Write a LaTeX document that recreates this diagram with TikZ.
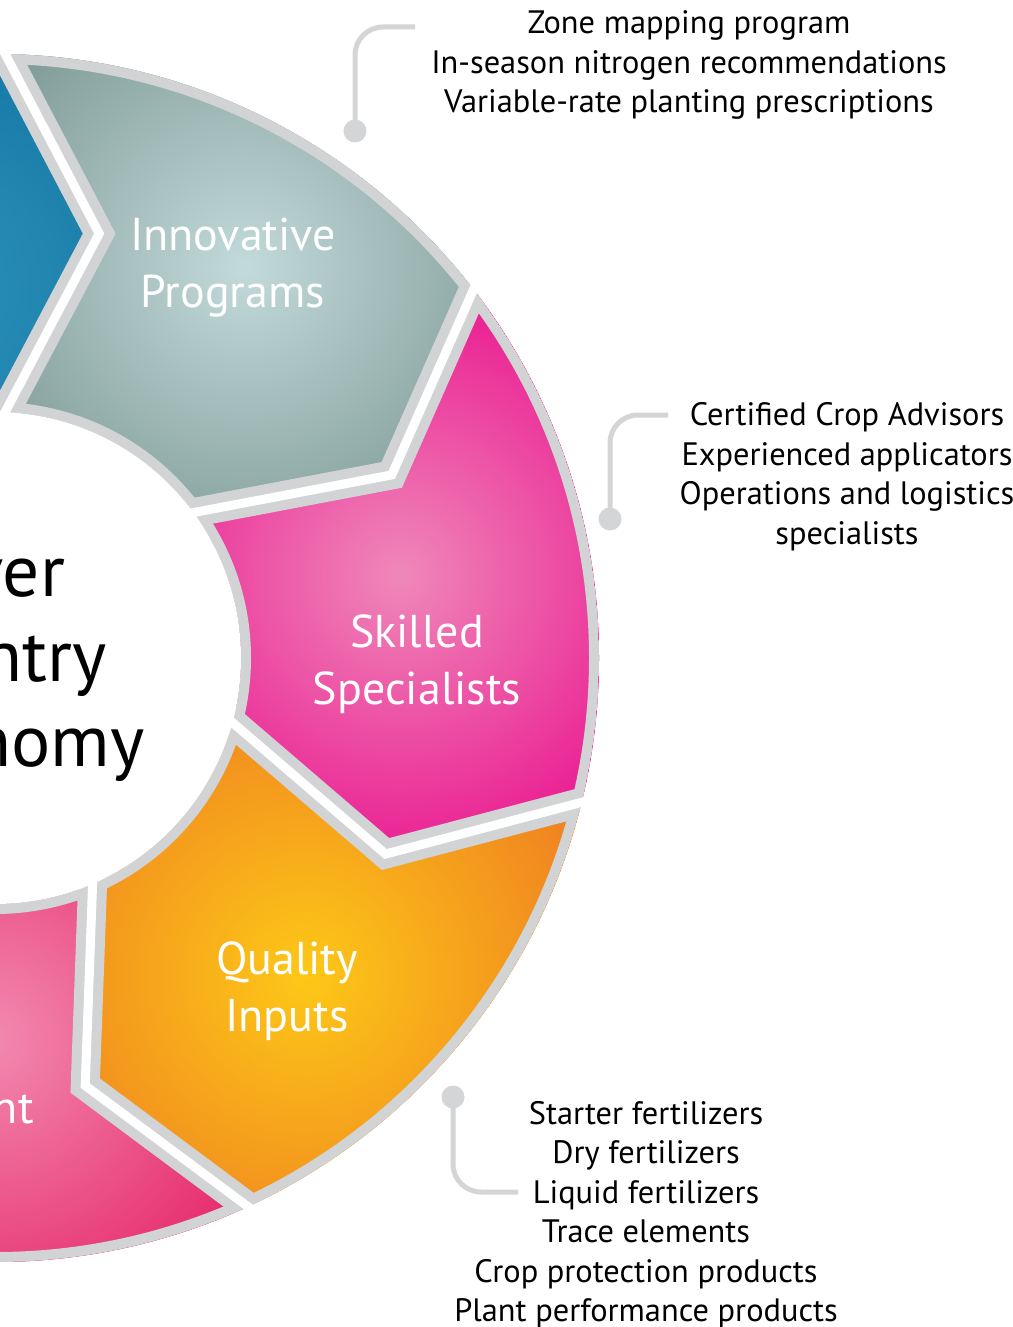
\documentclass[tikz,border=0pt]{standalone}
\usepackage{fontspec}
\setmainfont{PT Sans}
\usetikzlibrary{calc}
\definecolor{bordergray}{HTML}{D1D3D4}
\definecolor{conngray}{HTML}{D3D5D7}
\definecolor{blueIn}{HTML}{2E94BA}
\definecolor{blueOut}{HTML}{0E70A0}
\definecolor{grayIn}{HTML}{C2DADA}
\definecolor{grayOut}{HTML}{7B9692}
\definecolor{pinkIn}{HTML}{EF88B9}
\definecolor{pinkOut}{HTML}{EA128E}
\definecolor{orangeIn}{HTML}{FDC817}
\definecolor{orangeOut}{HTML}{EE7A22}
\definecolor{roseIn}{HTML}{F28AB0}
\definecolor{roseOut}{HTML}{E4145C}
\tikzset{
  seglabel/.style={text=white, align=center, inner sep=0pt, font=\fontsize{34.5}{42.75}\selectfont},
  centertext/.style={text=black, align=center, inner sep=0pt, font=\fontsize{55}{63.75}\selectfont},
  notetext/.style={text=black, align=center, inner sep=0pt, font=\fontsize{24.3}{29.6}\selectfont},
  calloutdot/.style={circle, fill=conngray, inner sep=0pt, minimum size=17.25pt},
  connline/.style={draw=conngray, line width=3.75pt, rounded corners=21pt},
  gapband/.style={draw=bordergray, line width=21.75pt, miter limit=10},
  gapline/.style={draw=white, line width=6.75pt, miter limit=10},
}
\newcommand\segfill[5]{%
  \begin{scope}
    \clip (EO#1) -- (T#1) -- (EI#1) -- (C) -- (EI#2) -- (T#2) -- (EO#2) -- (F#1) -- cycle;
    \fill[#4] (EO#1) -- (T#1) -- (EI#1) -- (C) -- (EI#2) -- (T#2) -- (EO#2) -- (F#1) -- cycle;
    \shade[inner color=#3, outer color=#4] #5;
  \end{scope}}
\begin{document}
\begin{tikzpicture}[x=0.75pt,y=0.75pt]
\useasboundingbox (0,0) rectangle (1013,-1327);
\clip (0,0) rectangle (1013,-1327);
\fill[white] (0,0) rectangle (1013,-1327);
\coordinate (C) at (-5,-658);
\foreach \j in {0,...,5} {
  \pgfmathsetmacro{\angT}{127.63-51.4286*\j}
  \pgfmathsetmacro{\angO}{\angT+12.3}
  \pgfmathsetmacro{\angI}{\angT+10.4}
  \pgfmathsetmacro{\angF}{\angT+12.3-25.71}
  \coordinate (T\j) at ($(C)+(\angT:437)$);
  \coordinate (O\j) at ($(C)+(\angO:594)$);
  \coordinate (I\j) at ($(C)+(\angI:256)$);
  \coordinate (EO\j) at ($(T\j)!1.25!(O\j)$);
  \coordinate (EI\j) at ($(T\j)!1.3!(I\j)$);
  \coordinate (F\j) at ($(C)+(\angF:1000)$);
}
% segment fills
\begin{scope}
  \clip (C) circle (604);
  \segfill{0}{1}{blueIn}{blueOut}{(-80,-290) circle (330)}
  \segfill{1}{2}{grayIn}{grayOut}{(245,-267) circle (330)}
  \segfill{2}{3}{pinkIn}{pinkOut}{(400,-575) circle (320)}
  \segfill{3}{4}{orangeIn}{orangeOut}{(305,-975) circle (340)}
  \segfill{4}{5}{roseIn}{roseOut}{(-10,-1040) circle (370)}
  % borders
  \draw[bordergray, line width=7.5pt] (C) circle (599);
  \foreach \j in {1,...,5} {
    \draw[gapband] (EO\j) -- (T\j) -- (EI\j);
  }
\end{scope}
\draw[bordergray, line width=7.5pt] (C) circle (251);
\foreach \j in {1,...,5} {
  \draw[gapline] (EO\j) -- (T\j) -- (EI\j);
}
\fill[white] (C) circle (246);
% centre text
\node[centertext] (hub) at (-15,-663) {River\\Country\\Agronomy};
% segment labels
\node[seglabel] (innov) at (233,-268) {Innovative\\Programs};
\node[seglabel] (skill) at (417,-664) {Skilled\\Specialists};
\node[seglabel] (qual) at (287,-991) {Quality\\Inputs};
\node[seglabel, anchor=base east] (fifth) at (34,-1123) {nt};
% callouts
\node[notetext] (n1) at (689,-65) {Zone mapping program\\In-season nitrogen recommendations\\Variable-rate planting prescriptions};
\node[notetext] (n2) at (847,-476.5) {Certified Crop Advisors\\Experienced applicators\\Operations and logistics\\specialists};
\node[notetext] (n3) at (646,-1214.5) {Starter fertilizers\\Dry fertilizers\\Liquid fertilizers\\Trace elements\\Crop protection products\\Plant performance products};
\node[calloutdot] (d1) at (355,-131) {};
\node[calloutdot] (d2) at (610,-519) {};
\node[calloutdot] (d3) at (453,-1097) {};
\coordinate (e1) at (415,-27);
\coordinate (e2) at (668,-415);
\coordinate (e3) at (518,-1192);
\draw[connline] (d1.center) |- (e1);
\draw[connline] (d2.center) |- (e2);
\draw[connline] (d3.center) |- (e3);
\end{tikzpicture}
\end{document}
